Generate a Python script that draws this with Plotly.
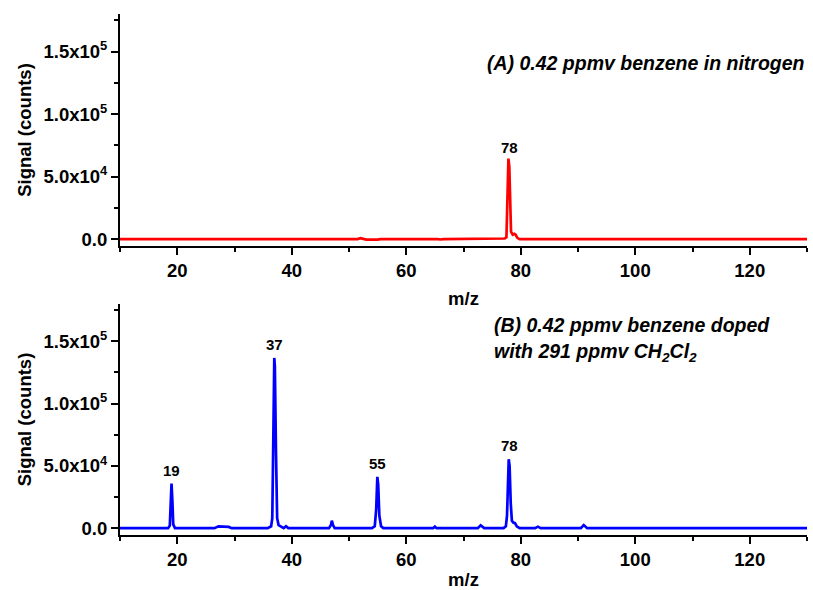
import plotly.graph_objects as go
from plotly.subplots import make_subplots

# ---------------- data ----------------
# Panel A: 0.42 ppmv benzene in nitrogen (red)
mz_a = [10, 37.0, 37.5, 38.0, 51.5, 52.0, 52.5, 53.0, 55.0, 55.5, 58.0, 58.5, 59.0,
        65.5, 66.0, 66.5, 76.5, 77.2, 77.5, 77.7, 77.85, 78.0, 78.15, 78.3, 78.6,
        78.9, 79.1, 79.4, 79.8, 84.0, 84.5, 85.0, 130]
sig_a = [0, 0, -200, 0, 0, 700, 0, -400, -400, 0, 0, 200, 0,
         0, -300, 0, 0, 500, 1500, 30000, 64400, 58000, 25000, 6000, 3500,
         4200, 3500, 1000, 0, 0, -300, 0, 0]

# Panel B: 0.42 ppmv benzene doped with 291 ppmv CH2Cl2 (blue)
mz_b = [10, 18.4, 18.7, 18.85, 19.0, 19.15, 19.3, 19.6,
        26.5, 27.2, 28.0, 29.0, 29.5,
        35.8, 36.4, 36.6, 36.8, 36.95, 37.05, 37.25, 37.45, 37.7, 38.2, 38.6, 39.0, 39.4,
        46.5, 46.85, 47.0, 47.2, 47.5,
        54.0, 54.5, 54.75, 54.95, 55.1, 55.3, 55.6, 56.0,
        64.7, 65.0, 65.3,
        72.5, 73.0, 73.6,
        77.0, 77.4, 77.6, 77.9, 78.05, 78.25, 78.45, 78.7, 79.0, 79.3, 79.8,
        82.5, 83.0, 83.5,
        84.7, 85.0, 85.3,
        90.5, 91.0, 91.6,
        130]
sig_b = [0, 0, 2000, 20000, 35800, 22000, 3000, 0,
         0, 1500, 1500, 1000, 0,
         0, 1500, 8000, 80000, 136700, 130000, 60000, 8000, 2500, 1000, 0, 1500, 0,
         0, 2500, 6000, 2500, 0,
         0, 1500, 15000, 41200, 35000, 10000, 1500, 0,
         0, 1200, 0,
         0, 2300, 0,
         0, 1500, 10000, 55300, 50000, 20000, 6000, 4500, 4000, 1500, 0,
         0, 1200, 0,
         0, 600, 0,
         0, 2500, 0,
         0]

# peak labels
peak_mz_a = [78]
peak_h_a = [64400]
peak_lab_a = ["78"]
peak_mz_b = [19, 37, 55, 78]
peak_h_b = [35800, 136700, 41200, 55300]
peak_lab_b = ["19", "37", "55", "78"]

# axis ticks
y_tickvals = [0, 50000, 100000, 150000]
y_ticktext = ["0.0", "5.0x10<sup>4</sup>", "1.0x10<sup>5</sup>", "1.5x10<sup>5</sup>"]
x_tickvals = [20, 40, 60, 80, 100, 120]

# ---------------- figure ----------------
FONT = "Liberation Sans, Arial, sans-serif"
fig = make_subplots(rows=2, cols=1, vertical_spacing=0.111)

fig.add_trace(go.Scatter(x=mz_a, y=sig_a, mode="lines",
                         line=dict(color="#ff0000", width=2.7), showlegend=False),
              row=1, col=1)
fig.add_trace(go.Scatter(x=mz_b, y=sig_b, mode="lines",
                         line=dict(color="#0000ff", width=2.7), showlegend=False),
              row=2, col=1)

for r, dom in zip([1, 2], [[0.5547, 1.0], [0.0, 0.4434]]):
    fig.update_xaxes(row=r, col=1, range=[10, 130], tickvals=x_tickvals,
                     showline=True, linecolor="black", linewidth=2,
                     ticks="outside", ticklen=7, tickwidth=1.5, tickcolor="black",
                     minor=dict(dtick=10, tick0=0, ticks="outside", ticklen=4,
                                tickwidth=1.5, tickcolor="black"),
                     showgrid=False, zeroline=False, automargin=False,
                     tickfont=dict(family=FONT, size=18.5, color="black", weight="bold"),
                     title=dict(text="m/z", standoff=12,
                                font=dict(family=FONT, size=18.5, color="black", weight="bold")))
    fig.update_yaxes(row=r, col=1, range=[-5500, 180000], domain=dom,
                     tickvals=y_tickvals, ticktext=y_ticktext,
                     showline=True, linecolor="black", linewidth=2,
                     ticks="outside", ticklen=7, tickwidth=1.5, tickcolor="black",
                     minor=dict(dtick=25000, tick0=0, ticks="outside", ticklen=4,
                                tickwidth=1.5, tickcolor="black"),
                     showgrid=False, zeroline=False, automargin=False,
                     tickfont=dict(family=FONT, size=18.5, color="black", weight="bold"),
                     title=dict(text="Signal (counts)", standoff=7,
                                font=dict(family=FONT, size=18.5, color="black", weight="bold")))

annos = []
for mz, h, lab in zip(peak_mz_a, peak_h_a, peak_lab_a):
    annos.append(dict(x=mz, y=h, xref="x", yref="y", text=lab, showarrow=False,
                      yanchor="bottom", yshift=1,
                      font=dict(family=FONT, size=15, color="black", weight="bold")))
for mz, h, lab in zip(peak_mz_b, peak_h_b, peak_lab_b):
    annos.append(dict(x=mz, y=h, xref="x2", yref="y2", text=lab, showarrow=False,
                      yanchor="bottom", yshift=3,
                      font=dict(family=FONT, size=15, color="black", weight="bold")))

pfont = dict(family=FONT, size=19.5, color="black", weight="bold", style="italic")
annos.append(dict(x=1.0, y=0.79, xref="x domain", yref="y domain",
                  text="(A) 0.42 ppmv benzene in nitrogen", showarrow=False,
                  xanchor="right", yanchor="middle", font=pfont))
annos.append(dict(x=0.541, y=0.907, xref="x2 domain", yref="y2 domain",
                  text="(B) 0.42 ppmv benzene doped", showarrow=False,
                  xanchor="left", yanchor="middle", font=pfont))
annos.append(dict(x=0.541, y=0.79, xref="x2 domain", yref="y2 domain",
                  text="with 291 ppmv CH<sub>2</sub>Cl<sub>2</sub>", showarrow=False,
                  xanchor="left", yanchor="middle", font=pfont))

fig.update_layout(width=813, height=590,
                  margin=dict(l=120, r=6, t=14, b=55),
                  paper_bgcolor="white", plot_bgcolor="white",
                  annotations=annos, showlegend=False)

fig.write_html("out.html", config={"displayModeBar": False},
               post_script="document.body.style.margin='0';document.body.style.padding='0';")
